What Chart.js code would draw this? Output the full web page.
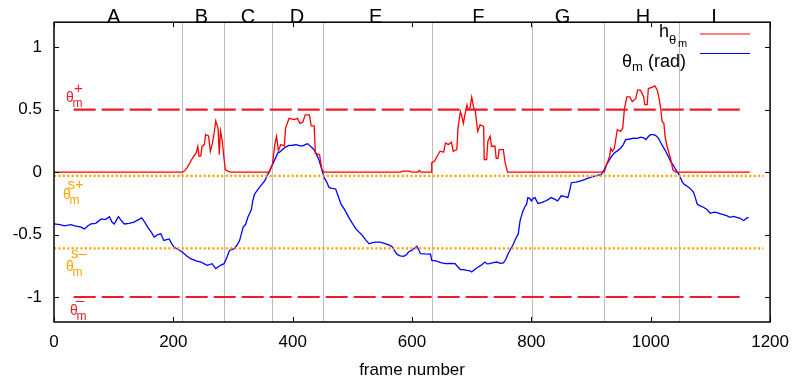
<!DOCTYPE html>
<html><head><meta charset="utf-8">
<script src="https://cdn.jsdelivr.net/npm/chart.js@4/dist/chart.umd.min.js"></script>
<style>html,body{margin:0;padding:0;background:#fff}</style>
</head><body>
<canvas id="c" width="799" height="385" style="width:799px;height:385px;display:block"></canvas>
<script>
// ---- data ----
const blueFrames=[0,10,18,28,35,45,51,57,62,70,79,86,93,97,101,105,108,113,118,126,134,140,147,152,157,163,168,174,179,184,189,193,197,201,208,215,222,229,238,246,252,257,265,271,279,285,290,294,301,306,311,317,321,325,328,331,333,336,340,344,348,353,357,361,366,370,375,378,383,388,394,400,406,412,417,421,425,429,433,437,440,444,447,450,453,457,461,466,472,476,481,487,494,500,506,511,517,522,528,534,539,547,556,562,567,571,575,580,586,591,594,600,608,611,614,622,631,633,640,648,656,664,672,677,681,686,692,697,700,705,711,716,722,726,730,736,742,748,753,757,761,766,770,774,778,781,784,786,790,792,794,797,800,803,806,811,817,822,828,833,838,844,850,855,861,864,867,875,883,889,894,900,906,912,917,922,926,931,935,939,944,950,954,958,965,972,978,983,988,992,996,1000,1004,1008,1013,1017,1021,1025,1029,1033,1037,1042,1046,1050,1053,1056,1060,1064,1068,1072,1075,1078,1083,1089,1094,1100,1106,1111,1117,1122,1128,1133,1139,1144,1150,1156,1160,1164];
const blueValues=[-0.415,-0.42,-0.43,-0.42,-0.43,-0.44,-0.455,-0.43,-0.415,-0.41,-0.375,-0.38,-0.357,-0.40,-0.415,-0.38,-0.357,-0.39,-0.415,-0.41,-0.40,-0.385,-0.367,-0.40,-0.44,-0.48,-0.52,-0.50,-0.494,-0.548,-0.54,-0.535,-0.57,-0.60,-0.62,-0.64,-0.67,-0.693,-0.71,-0.72,-0.735,-0.746,-0.733,-0.772,-0.746,-0.733,-0.68,-0.627,-0.615,-0.59,-0.548,-0.44,-0.42,-0.36,-0.33,-0.296,-0.23,-0.177,-0.15,-0.124,-0.10,-0.071,-0.03,0.008,0.06,0.10,0.153,0.16,0.18,0.20,0.214,0.215,0.22,0.21,0.21,0.22,0.227,0.21,0.193,0.17,0.14,0.10,0.048,0.0,-0.045,-0.08,-0.124,-0.13,-0.135,-0.19,-0.257,-0.30,-0.362,-0.41,-0.455,-0.48,-0.508,-0.54,-0.574,-0.565,-0.56,-0.56,-0.574,-0.585,-0.60,-0.63,-0.659,-0.67,-0.675,-0.66,-0.64,-0.625,-0.593,-0.62,-0.653,-0.655,-0.656,-0.706,-0.71,-0.725,-0.733,-0.73,-0.733,-0.76,-0.78,-0.78,-0.786,-0.79,-0.80,-0.78,-0.76,-0.745,-0.72,-0.735,-0.733,-0.725,-0.72,-0.73,-0.726,-0.70,-0.653,-0.61,-0.574,-0.53,-0.495,-0.39,-0.34,-0.31,-0.27,-0.257,-0.204,-0.21,-0.23,-0.21,-0.204,-0.251,-0.245,-0.235,-0.22,-0.204,-0.215,-0.23,-0.19,-0.195,-0.204,-0.15,-0.085,-0.08,-0.071,-0.06,-0.05,-0.04,-0.032,-0.025,-0.02,0.021,0.06,0.10,0.13,0.153,0.17,0.193,0.22,0.26,0.265,0.272,0.27,0.28,0.275,0.26,0.285,0.30,0.30,0.295,0.27,0.233,0.20,0.167,0.13,0.087,0.06,0.021,-0.01,-0.045,-0.08,-0.098,-0.11,-0.124,-0.14,-0.164,-0.21,-0.257,-0.27,-0.283,-0.30,-0.33,-0.32,-0.325,-0.335,-0.341,-0.35,-0.362,-0.355,-0.362,-0.37,-0.389,-0.37,-0.362];

const redFrames=[0,215,219,223,229,234,238,241,243,246,248,252,254,259,262,265,268,271,275,277,279,282,284,287,292,297,361,366,370,373,376,380,386,388,394,403,408,412,417,421,428,431,436,438,445,449,453,580,585,595,600,610,612,615,632,633,638,642,647,653,656,661,666,669,675,677,681,683,686,689,692,694,697,700,703,706,708,710,714,720,721,725,727,731,733,739,741,744,746,753,756,760,922,926,931,933,936,939,944,949,953,956,960,965,969,975,978,983,988,990,994,996,1003,1007,1011,1014,1017,1019,1022,1024,1028,1033,1037,1042,1166];
const redValues=[0,0,0.01,0.034,0.087,0.127,0.15,0.206,0.127,0.13,0.206,0.22,0.30,0.29,0.167,0.22,0.30,0.41,0.35,0.14,0.33,0.25,0.15,0.02,0.005,0,0,0.06,0.22,0.286,0.17,0.22,0.21,0.35,0.43,0.42,0.43,0.39,0.40,0.458,0.458,0.37,0.37,0.153,0.14,0.02,0,0,0.008,0.008,0,0,0.015,0,0,0.074,0.09,0.127,0.167,0.16,0.233,0.22,0.24,0.167,0.18,0.352,0.484,0.455,0.39,0.47,0.537,0.50,0.51,0.60,0.52,0.49,0.405,0.325,0.378,0.365,0.10,0.10,0.246,0.286,0.207,0.207,0.11,0.11,0.18,0.18,0.074,0,0,0.06,0.127,0.19,0.167,0.19,0.339,0.326,0.35,0.51,0.603,0.603,0.563,0.59,0.656,0.656,0.603,0.54,0.54,0.669,0.68,0.69,0.656,0.59,0.497,0.405,0.39,0.286,0.193,0.114,0.02,0,0];

const thetaPlus=0.5, thetaMinus=-1.0, thetaSPlus=-0.03, thetaSMinus=-0.61;
const threshStart=33, threshEnd=1158, sThreshEnd=1189;
const regionBounds=[214,285,365,450,633,801,921,1048];
const regionLabels=['A','B','C','D','E','F','G','H','I'];
const regionLabelPos=[100,247,325,407,539,711,852,987,1106];
const xTicks=[0,200,400,600,800,1000,1200];
const yTicks=[-1,-0.5,0,0.5,1];

const RED='#ff0000', DRED='#ee1c25', BLUE='#0000ff', ORANGE='#ffa500';
const FONT='"Liberation Sans", Arial, sans-serif';

function pts(xs,ys){return xs.map((x,i)=>({x:x,y:ys[i]}));}

const deco={
  id:'deco',
  beforeDatasetsDraw(chart){
    const {ctx,chartArea:a,scales:{x}}=chart;
    ctx.save();
    ctx.strokeStyle='#bdbdbd';ctx.lineWidth=1;
    regionBounds.forEach(b=>{const px=Math.round(x.getPixelForValue(b))+0.5;ctx.beginPath();ctx.moveTo(px,a.top);ctx.lineTo(px,a.bottom);ctx.stroke();});
    ctx.restore();
  },
  afterDraw(chart){
    const {ctx,chartArea:a,scales:{x,y}}=chart;
    ctx.save();
    ctx.strokeStyle='#000';ctx.lineWidth=1.5;
    ctx.strokeRect(a.left,a.top,a.right-a.left,a.bottom-a.top);
    ctx.lineWidth=1;
    xTicks.forEach(v=>{const px=Math.round(x.getPixelForValue(v))+0.5;
      ctx.beginPath();ctx.moveTo(px,a.bottom);ctx.lineTo(px,a.bottom-5);ctx.moveTo(px,a.top);ctx.lineTo(px,a.top+5);ctx.stroke();});
    yTicks.forEach(v=>{const py=Math.round(y.getPixelForValue(v))+0.5;
      ctx.beginPath();ctx.moveTo(a.left,py);ctx.lineTo(a.left+5,py);ctx.moveTo(a.right,py);ctx.lineTo(a.right-5,py);ctx.stroke();});
    ctx.fillStyle='#000';ctx.font='20px '+FONT;ctx.textAlign='center';ctx.textBaseline='alphabetic';
    regionLabels.forEach((l,i)=>ctx.fillText(l,x.getPixelForValue(regionLabelPos[i]),a.top+0.5));
    ctx.textAlign='left';
    const yp=y.getPixelForValue(thetaPlus), ym=y.getPixelForValue(thetaMinus),
          ysp=y.getPixelForValue(thetaSPlus), ysm=y.getPixelForValue(thetaSMinus);
    function lab(color,base,dx,dy,sup,supdx,supdy){
      ctx.fillStyle=color;
      ctx.font='14px '+FONT;ctx.fillText('θ',dx,base+dy);
      ctx.font='12px '+FONT;ctx.fillText('m',dx+6.5,base+dy+5);
      ctx.font='15px '+FONT;ctx.fillText(sup,dx+supdx,base+supdy);
    }
    lab(DRED,yp,66,-7.5,'+',8,-17);
    lab(ORANGE,ysp,63,23,'s+',4.5,13);
    lab(ORANGE,ysm,66,22.5,'s\u2013',5,10);
    lab(DRED,ym,70,18,'\u2013',6,8);
    ctx.fillStyle='#000';
    ctx.font='18px '+FONT;ctx.fillText('h',659,37);
    ctx.font='13px '+FONT;ctx.fillText('θ',669,44);
    ctx.font='11px '+FONT;ctx.fillText('m',678,47);
    ctx.font='18px '+FONT;ctx.fillText('θ',622,67);
    ctx.font='13px '+FONT;ctx.fillText('m',632,71);
    ctx.font='18px '+FONT;ctx.fillText('(rad)',648,67);
    ctx.lineWidth=1.2;
    ctx.strokeStyle=RED;ctx.beginPath();ctx.moveTo(700,34);ctx.lineTo(750,34);ctx.stroke();
    ctx.strokeStyle=BLUE;ctx.beginPath();ctx.moveTo(700,53.5);ctx.lineTo(750,53.5);ctx.stroke();
    ctx.restore();
  }
};

new Chart(document.getElementById('c'),{
  type:'line',
  data:{datasets:[
    {data:[{x:threshStart,y:thetaPlus},{x:threshEnd,y:thetaPlus}],borderColor:DRED,borderWidth:2.2,borderDash:[22,6],pointRadius:0},
    {data:[{x:threshStart,y:thetaMinus},{x:threshEnd,y:thetaMinus}],borderColor:DRED,borderWidth:2.2,borderDash:[22,6],pointRadius:0},
    {data:[{x:0,y:thetaSPlus},{x:sThreshEnd,y:thetaSPlus}],borderColor:ORANGE,borderWidth:2.2,borderDash:[2.2,2.2],pointRadius:0},
    {data:[{x:0,y:thetaSMinus},{x:sThreshEnd,y:thetaSMinus}],borderColor:ORANGE,borderWidth:2.2,borderDash:[2.2,2.2],pointRadius:0},
    {label:'h',data:pts(redFrames,redValues),borderColor:RED,borderWidth:1.3,pointRadius:0,tension:0},
    {label:'theta',data:pts(blueFrames,blueValues),borderColor:BLUE,borderWidth:1.3,pointRadius:0,tension:0}
  ]},
  options:{
    responsive:false,animation:false,devicePixelRatio:1,
    layout:{padding:{left:0,top:19,right:26,bottom:0}},
    plugins:{legend:{display:false},tooltip:{enabled:false}},
    scales:{
      x:{type:'linear',min:0,max:1200,
        afterBuildTicks(s){s.ticks=xTicks.map(v=>({value:v}));},
        afterFit(s){s.height=63;},
        grid:{display:false,drawTicks:false},border:{display:false},
        ticks:{padding:10,color:'#000',font:{family:FONT,size:17},callback:v=>String(v),maxRotation:0,autoSkip:false},
        title:{display:true,text:'frame number',color:'#000',font:{family:FONT,size:17},padding:{top:0,bottom:4}}},
      y:{type:'linear',min:-1.2,max:1.2,
        afterBuildTicks(s){s.ticks=yTicks.map(v=>({value:v}));},
        afterFit(s){s.width=54;},
        grid:{display:false,drawTicks:false},border:{display:false},
        ticks:{padding:12,color:'#000',font:{family:FONT,size:17},callback:v=>String(v)}}
    }
  },
  plugins:[deco]
});
</script>
</body></html>
